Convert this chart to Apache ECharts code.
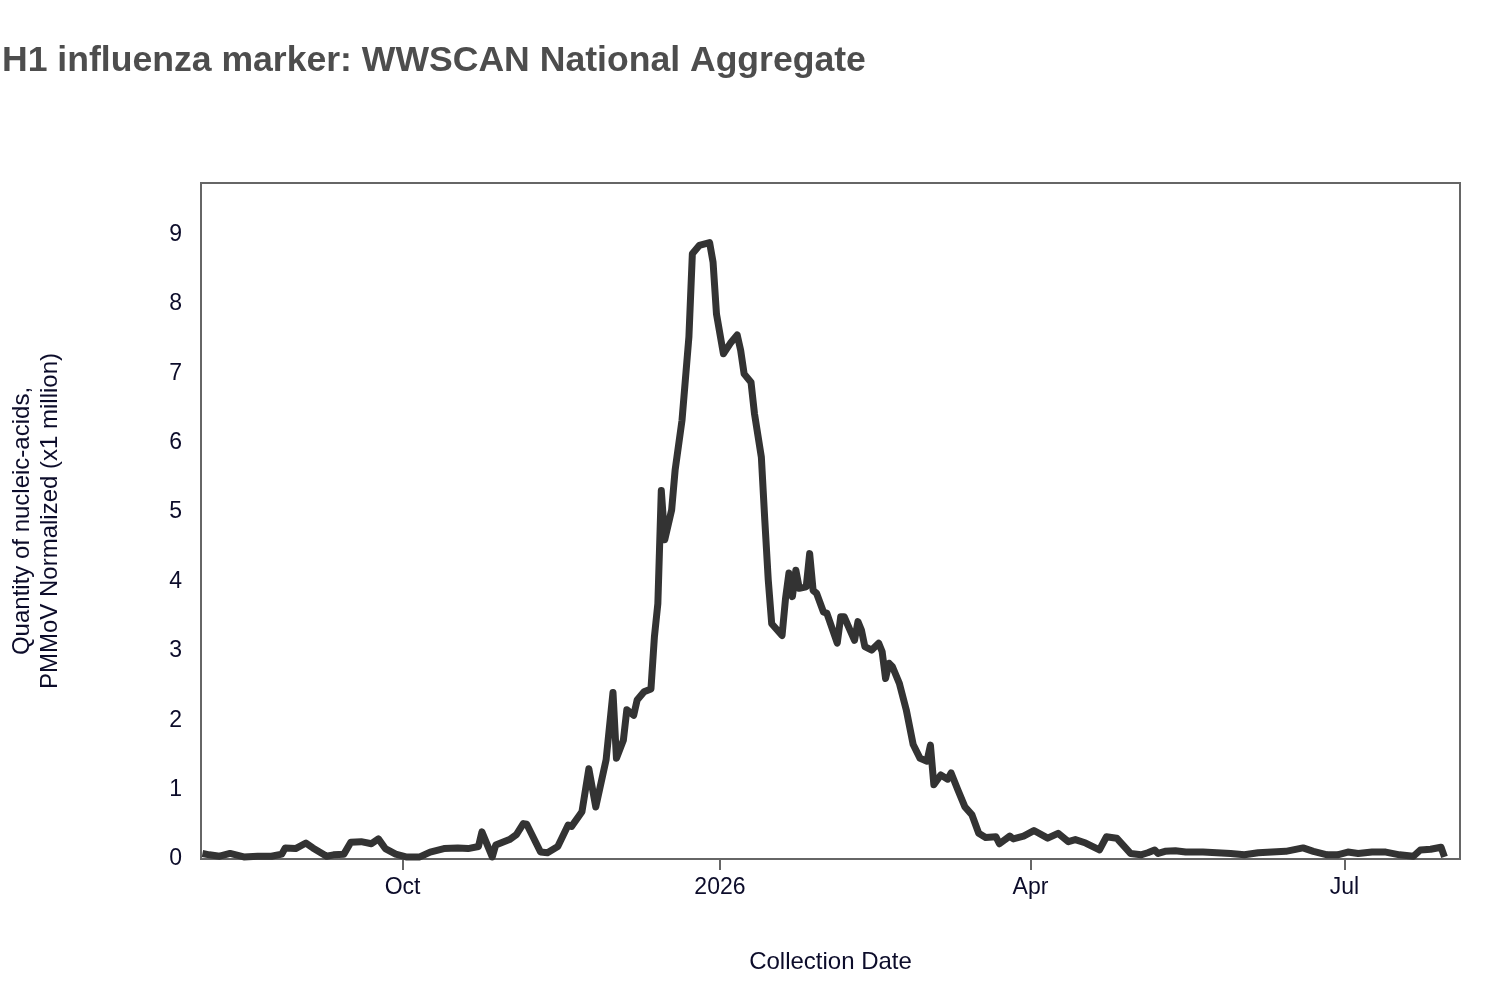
<!DOCTYPE html>
<html lang="en">

<head>
    <meta charset="utf-8">
    <title>H1 influenza marker: WWSCAN National Aggregate</title>
    <style>
        * {
            margin: 0;
            padding: 0;
        }

        #chart-container {
            width: 1500px;
            height: 984px;
            background: #fff;
        }
    </style>
</head>

<body>
    <div id="chart-container"></div>
    <script src="https://cdn.jsdelivr.net/npm/echarts@6/dist/echarts.min.js"></script>
    <script>
        // collection dates and values (x1 million)
        var dates = [
            '2025-08-04', '2025-08-06', '2025-08-09', '2025-08-12', '2025-08-16', '2025-08-20',
            '2025-08-24', '2025-08-27', '2025-08-28', '2025-08-31', '2025-09-03', '2025-09-05',
            '2025-09-09', '2025-09-11', '2025-09-14', '2025-09-16', '2025-09-19', '2025-09-22',
            '2025-09-24', '2025-09-26', '2025-09-29', '2025-10-02', '2025-10-06', '2025-10-09',
            '2025-10-13', '2025-10-17', '2025-10-20', '2025-10-23', '2025-10-24', '2025-10-27',
            '2025-10-28', '2025-11-01', '2025-11-03', '2025-11-05', '2025-11-06', '2025-11-10',
            '2025-11-12', '2025-11-15', '2025-11-18', '2025-11-19', '2025-11-22', '2025-11-24',
            '2025-11-26', '2025-11-29', '2025-12-01', '2025-12-02', '2025-12-04', '2025-12-05',
            '2025-12-07', '2025-12-08', '2025-12-10', '2025-12-12', '2025-12-13', '2025-12-14',
            '2025-12-15', '2025-12-16', '2025-12-18', '2025-12-19', '2025-12-21', '2025-12-23',
            '2025-12-24', '2025-12-26', '2025-12-29', '2025-12-30', '2025-12-31', '2026-01-02',
            '2026-01-04', '2026-01-06', '2026-01-07', '2026-01-08', '2026-01-10', '2026-01-11',
            '2026-01-13', '2026-01-14', '2026-01-15', '2026-01-16', '2026-01-19', '2026-01-20',
            '2026-01-21', '2026-01-22', '2026-01-23', '2026-01-24', '2026-01-26', '2026-01-27',
            '2026-01-28', '2026-01-29', '2026-01-31', '2026-02-01', '2026-02-04', '2026-02-05',
            '2026-02-06', '2026-02-09', '2026-02-10', '2026-02-11', '2026-02-12', '2026-02-14',
            '2026-02-16', '2026-02-17', '2026-02-18', '2026-02-19', '2026-02-20', '2026-02-22',
            '2026-02-24', '2026-02-26', '2026-02-28', '2026-03-02', '2026-03-03', '2026-03-04',
            '2026-03-06', '2026-03-08', '2026-03-09', '2026-03-11', '2026-03-13', '2026-03-15',
            '2026-03-17', '2026-03-19', '2026-03-22', '2026-03-23', '2026-03-26', '2026-03-27',
            '2026-03-30', '2026-04-02', '2026-04-06', '2026-04-09', '2026-04-12', '2026-04-14',
            '2026-04-17', '2026-04-21', '2026-04-23', '2026-04-26', '2026-04-30', '2026-05-03',
            '2026-05-05', '2026-05-07', '2026-05-08', '2026-05-10', '2026-05-13', '2026-05-16',
            '2026-05-21', '2026-05-25', '2026-05-29', '2026-06-02', '2026-06-06', '2026-06-10',
            '2026-06-14', '2026-06-19', '2026-06-22', '2026-06-26', '2026-06-29', '2026-07-02',
            '2026-07-05', '2026-07-09', '2026-07-13', '2026-07-17', '2026-07-21', '2026-07-23',
            '2026-07-26', '2026-07-29', '2026-07-30'
        ];
        var values = [
            0.08, 0.06, 0.04, 0.08, 0.03, 0.04,
            0.04, 0.07, 0.16, 0.15, 0.23, 0.16,
            0.04, 0.06, 0.07, 0.24, 0.25, 0.22,
            0.29, 0.15, 0.07, 0.03, 0.03, 0.10,
            0.15, 0.16, 0.15, 0.18, 0.39, 0.03,
            0.20, 0.28, 0.35, 0.51, 0.50, 0.10,
            0.09, 0.18, 0.49, 0.47, 0.68, 1.30,
            0.75, 1.43, 2.40, 1.45, 1.71, 2.15,
            2.07, 2.29, 2.41, 2.45, 3.20, 3.68,
            5.31, 4.60, 5.03, 5.60, 6.32, 7.52,
            8.72, 8.84, 8.88, 8.60, 7.85, 7.28,
            7.43, 7.55, 7.33, 6.99, 6.87, 6.42,
            5.79, 4.88, 4.02, 3.39, 3.22, 3.75,
            4.12, 3.78, 4.16, 3.90, 3.92, 4.40,
            3.87, 3.83, 3.56, 3.54, 3.11, 3.49,
            3.49, 3.15, 3.42, 3.30, 3.06, 3.01,
            3.11, 2.99, 2.60, 2.82, 2.77, 2.53,
            2.15, 1.65, 1.45, 1.41, 1.64, 1.07,
            1.21, 1.15, 1.24, 0.99, 0.75, 0.64,
            0.37, 0.31, 0.32, 0.22, 0.33, 0.29,
            0.33, 0.41, 0.30, 0.37, 0.25, 0.28,
            0.23, 0.13, 0.32, 0.30, 0.08, 0.06,
            0.09, 0.13, 0.08, 0.11, 0.12, 0.10,
            0.10, 0.09, 0.08, 0.06, 0.09, 0.10,
            0.11, 0.16, 0.11, 0.06, 0.06, 0.10,
            0.08, 0.10, 0.10, 0.06, 0.04, 0.13,
            0.14, 0.17, 0.03
        ];
        // x axis tick positions and their labels
        var xTickDates = ['2025-10-01', '2026-01-01', '2026-04-01', '2026-07-01'];
        var xTickLabels = ['Oct', '2026', 'Apr', 'Jul'];
        var xRange = ['2025-08-03T14:00:00', '2026-08-03T12:00:00'];
        var yMax = 9.74;

        var dom = document.getElementById('chart-container');
        var myChart = echarts.init(dom, null, { renderer: 'canvas' });

        function toTime(s) {
            return +new Date(s.length > 10 ? s : s + 'T00:00:00');
        }
        var tickTimes = xTickDates.map(toTime);
        var seriesData = dates.map(function (d, i) { return [toTime(d), values[i]]; });
        var textColor = '#0c0c2a';
        var font = 'Liberation Sans, Arial, Helvetica, sans-serif';

        var option = {
            backgroundColor: '#fff',
            animation: false,
            textStyle: { fontFamily: font },
            title: {
                text: 'H1 influenza marker: WWSCAN National Aggregate',
                left: 0,
                top: 43,
                padding: [0, 0, 0, 2],
                textStyle: {
                    fontFamily: font,
                    fontSize: 35.6,
                    fontWeight: 'bold',
                    color: '#4d4d4d'
                }
            },
            grid: {
                left: 201,
                right: 40,
                top: 183,
                bottom: 125,
                show: true,
                borderColor: '#666',
                borderWidth: 2,
                containLabel: false
            },
            xAxis: {
                type: 'value',
                min: toTime(xRange[0]),
                max: toTime(xRange[1]),
                name: 'Collection Date',
                nameLocation: 'middle',
                nameGap: 91,
                nameTextStyle: { fontSize: 24, color: textColor, fontFamily: font },
                axisLine: { show: true, lineStyle: { color: '#666', width: 2 } },
                axisTick: {
                    show: true,
                    length: 11,
                    lineStyle: { color: '#666', width: 2 },
                    customValues: tickTimes
                },
                axisLabel: {
                    fontSize: 23,
                    color: textColor,
                    margin: 17,
                    customValues: tickTimes,
                    formatter: function (val) {
                        var i = tickTimes.indexOf(val);
                        return i >= 0 ? xTickLabels[i] : '';
                    }
                },
                splitLine: { show: false }
            },
            yAxis: {
                type: 'value',
                min: 0,
                max: yMax,
                interval: 1,
                name: 'Quantity of nucleic-acids,\nPMMoV Normalized (x1 million)',
                nameLocation: 'middle',
                nameGap: 137,
                nameTextStyle: { fontSize: 24, color: textColor, lineHeight: 28, fontFamily: font },
                axisLine: { show: false },
                axisTick: { show: false },
                axisLabel: {
                    fontSize: 23,
                    color: textColor,
                    margin: 19,
                    showMaxLabel: false
                },
                splitLine: { show: false }
            },
            series: [
                {
                    name: 'H1',
                    type: 'line',
                    data: seriesData,
                    symbol: 'none',
                    clip: false,
                    lineStyle: { color: '#333', width: 7, join: 'round' },
                    itemStyle: { color: '#333' }
                }
            ]
        };

        myChart.setOption(option);
        window.addEventListener('resize', myChart.resize);
    </script>
</body>

</html>
